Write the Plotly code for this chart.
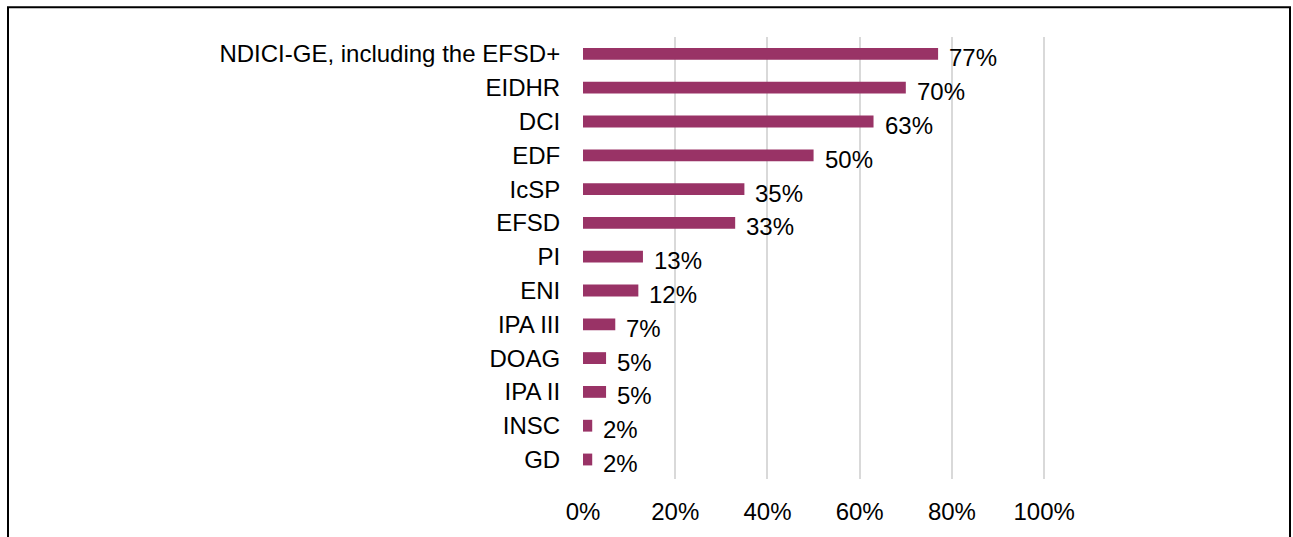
import plotly.graph_objects as go

categories = ["NDICI-GE, including the EFSD+", "EIDHR", "DCI", "EDF", "IcSP", "EFSD",
              "PI", "ENI", "IPA III", "DOAG", "IPA II", "INSC", "GD"]
values = [77, 70, 63, 50, 35, 33, 13, 12, 7, 5, 5, 2, 2]
labels = [f"{v}%" for v in values]
tick_vals = [0, 20, 40, 60, 80, 100]
tick_text = [f"{t}%" for t in tick_vals]

FONT = "Liberation Sans, Arial, sans-serif"
FS = 24
COLOR = "#993366"

fig = go.Figure()
fig.add_trace(go.Bar(
    y=categories, x=values, orientation="h",
    marker=dict(color=COLOR, line=dict(width=0)),
    width=0.35, hoverinfo="skip", showlegend=False,
))

for c, v, t in zip(categories, values, labels):
    fig.add_annotation(x=v, y=c, text=t, showarrow=False, xanchor="left",
                       xshift=9, yshift=-4, font=dict(family=FONT, size=FS, color="#000000"))

W, H = 1293, 537
L, R, T, B = 583, 247, 37, 56
pw, ph = W - L - R, H - T - B

fig.add_shape(type="rect", xref="paper", yref="paper",
              x0=(8 - L) / pw, x1=(1290 - L) / pw,
              y0=-(H + 20 - (T + ph)) / ph, y1=1 + (T - 7) / ph,
              line=dict(color="#000000", width=2), fillcolor="rgba(0,0,0,0)", layer="above")

fig.update_layout(
    width=W, height=H,
    margin=dict(l=L, r=R, t=T, b=B),
    paper_bgcolor="white", plot_bgcolor="white",
    font=dict(family=FONT, size=FS, color="#000000"),
    xaxis=dict(range=[0, 100.4], tickvals=tick_vals, ticktext=tick_text,
               showgrid=True, gridcolor="#D9D9D9", gridwidth=1.5, zeroline=False,
               showline=False, ticks="outside", ticklen=11, tickcolor="rgba(0,0,0,0)",
               tickfont=dict(family=FONT, size=FS, color="#000000"), fixedrange=True),
    yaxis=dict(categoryorder="array", categoryarray=categories[::-1],
               showgrid=False, zeroline=False, showline=False,
               ticks="outside", ticklen=17, tickcolor="rgba(0,0,0,0)",
               tickfont=dict(family=FONT, size=FS, color="#000000"), fixedrange=True),
    bargap=0.65,
)

fig.write_html("out.html", config={"displayModeBar": False},
               post_script="document.body.style.margin='0';document.body.style.overflow='hidden';")
